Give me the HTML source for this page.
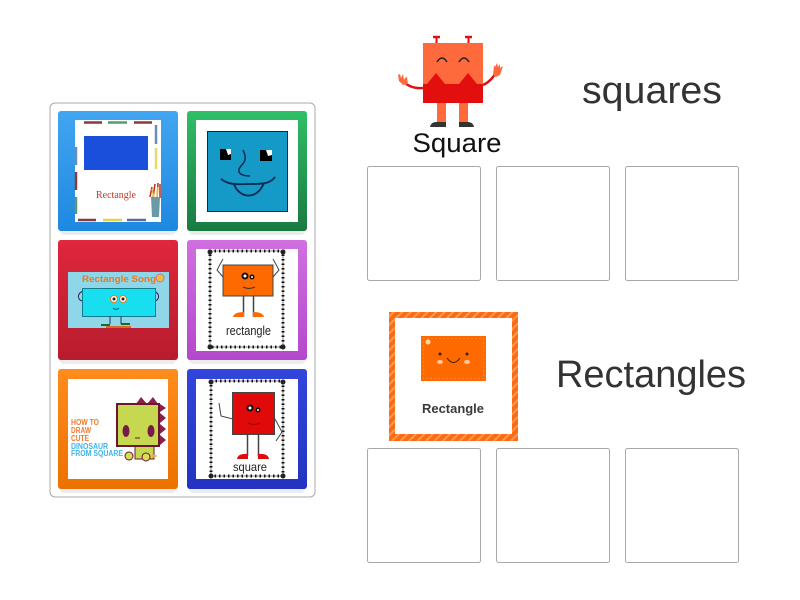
<!DOCTYPE html>
<html><head><meta charset="utf-8"><style>
html,body{margin:0;padding:0;background:#fff;width:800px;height:600px;overflow:hidden}
svg{display:block}
text{font-family:"Liberation Sans",sans-serif}
</style></head><body>
<svg width="800" height="600" viewBox="0 0 800 600" xmlns="http://www.w3.org/2000/svg">
<defs>
<linearGradient id="gb" x1="0" y1="0" x2="0" y2="1"><stop offset="0" stop-color="#42a5f0"/><stop offset="1" stop-color="#1e88e0"/></linearGradient>
<linearGradient id="gg" x1="0" y1="0" x2="0" y2="1"><stop offset="0" stop-color="#2fbf68"/><stop offset="1" stop-color="#1a7a40"/></linearGradient>
<linearGradient id="gr" x1="0" y1="0" x2="0" y2="1"><stop offset="0" stop-color="#e0263c"/><stop offset="1" stop-color="#b81c2e"/></linearGradient>
<linearGradient id="gp" x1="0" y1="0" x2="0" y2="1"><stop offset="0" stop-color="#d070e0"/><stop offset="1" stop-color="#b448cc"/></linearGradient>
<linearGradient id="go" x1="0" y1="0" x2="0" y2="1"><stop offset="0" stop-color="#ff8c1e"/><stop offset="1" stop-color="#ec7100"/></linearGradient>
<linearGradient id="gi" x1="0" y1="0" x2="0" y2="1"><stop offset="0" stop-color="#3346dc"/><stop offset="1" stop-color="#2233c0"/></linearGradient>
<pattern id="st" width="6" height="6" patternUnits="userSpaceOnUse" patternTransform="rotate(45)"><rect width="6" height="6" fill="#ff6a10"/><rect width="2" height="6" fill="#ff9a55"/></pattern>
</defs>

<rect x="50" y="103" width="265" height="394" rx="5" fill="#fff" stroke="#a8a8a8"/>

<!-- card shadows -->
<g fill="#000" opacity=".07">
<rect x="60" y="115" width="116" height="120" rx="4"/><rect x="189" y="115" width="116" height="120" rx="4"/>
<rect x="60" y="244" width="116" height="120" rx="4"/><rect x="189" y="244" width="116" height="120" rx="4"/>
<rect x="60" y="373" width="116" height="120" rx="4"/><rect x="189" y="373" width="116" height="120" rx="4"/>
</g>

<!-- Card 1 -->
<rect x="58" y="111" width="120" height="120" rx="3" fill="url(#gb)"/>
<rect x="75" y="120" width="86" height="102" fill="#fff"/>
<g stroke-width="2.500">
<path d="M84 122.500H102" stroke="#8a3a3a"/><path d="M108 122.500H127" stroke="#5a9a6a"/><path d="M134 122.500H152" stroke="#8a3a3a"/>
<path d="M156 125V144" stroke="#6a8ac0"/><path d="M156 148V169" stroke="#e8d870"/>
<path d="M76 147V165" stroke="#6a8ac0"/><path d="M76 172V190" stroke="#8a3a3a"/><path d="M76 197V214" stroke="#5a9a6a"/>
<path d="M78 220H96" stroke="#8a3a3a"/><path d="M103 220H122" stroke="#e8d040"/><path d="M127 220H146" stroke="#5a6a9a"/>
</g>
<rect x="84" y="136" width="64" height="34" fill="#1a4fdc"/>
<text x="116" y="198" font-size="10" fill="#c0392b" text-anchor="middle" style="font-family:'Liberation Serif',serif">Rectangle</text>
<path d="M150 197L152 187M153 198L155 184M157 198L158 183M160 198L160 184" stroke="#b03020" stroke-width="1.500"/>
<path d="M152 189L154 198M158 187L157 198" stroke="#e8c030" stroke-width="1.500"/>
<path d="M151 197H160L159 217H152Z" fill="#6a9aa8"/>

<!-- Card 2 -->
<rect x="187" y="111" width="120" height="120" rx="3" fill="url(#gg)"/>
<rect x="196" y="120" width="102" height="102" fill="#fff"/>
<rect x="207.500" y="131.500" width="80" height="80" fill="#1599c6" stroke="#0a2a50"/>
<rect x="220" y="149" width="11" height="11" fill="#000"/><path d="M226 149h5v5l-3 1z" fill="#fff"/>
<rect x="260" y="150" width="12" height="11" fill="#000"/><path d="M266 150h6v5l-4 1z" fill="#fff"/>
<path d="M243 150C247 158 245 162 241 166C236 172 240 176 250 176" fill="none" stroke="#0a2a50" stroke-width="1.500"/>
<path d="M221 179C230 186 240 184 250 184C262 184 270 184 275 177" fill="none" stroke="#0a2a50" stroke-width="1.800"/>
<path d="M234 184C238 197 256 202 264 183" fill="none" stroke="#0a2a50" stroke-width="1.800"/>

<!-- Card 3 -->
<rect x="58" y="240" width="120" height="120" rx="3" fill="url(#gr)"/>
<rect x="68" y="272" width="101" height="56" fill="#8fd6e8"/>
<text x="119" y="282" font-size="9" font-weight="bold" fill="#e87a1a" text-anchor="middle" textLength="74" lengthAdjust="spacingAndGlyphs">Rectangle Song</text>
<circle cx="160" cy="278" r="4" fill="#e8c040" stroke="#d070a0"/>
<path d="M83 291C76 294 78 301 83 301M154 291C161 294 159 301 154 301" fill="none" stroke="#225" />
<rect x="82.500" y="288.500" width="73" height="28" fill="#18dff0" stroke="#0f7c8a"/>
<circle cx="114" cy="299" r="3.500" fill="#fff" stroke="#e87a1a"/><circle cx="123" cy="299" r="3.500" fill="#fff" stroke="#e87a1a"/>
<circle cx="114" cy="299" r="1.500" fill="#222"/><circle cx="123" cy="299" r="1.500" fill="#222"/>
<path d="M113 308q3 3 6 0" fill="none" stroke="#157" />
<path d="M110 316V324M121 316V324" stroke="#236" />
<path d="M101 325h9M121 324h9" stroke="#1a6a30" stroke-width="2"/>
<path d="M106 327h25" stroke="#d07020" stroke-width="2"/>

<!-- Card 4 -->
<rect x="187" y="240" width="120" height="120" rx="3" fill="url(#gp)"/>
<rect x="196" y="249" width="102" height="102" fill="#fff"/>
<rect x="210" y="251" width="73" height="96" fill="none" stroke="#555" stroke-width=".7"/>
<rect x="210" y="251" width="73" height="96" fill="none" stroke="#111" stroke-width="3" stroke-dasharray="1.500 3"/>
<circle cx="210" cy="252" r="2.500" fill="#222"/><circle cx="283" cy="252" r="2.500" fill="#222"/><circle cx="210" cy="347" r="2.500" fill="#222"/><circle cx="283" cy="347" r="2.500" fill="#222"/>
<rect x="223" y="265" width="50" height="31" fill="#ff6a00" stroke="#444"/>
<path d="M223 277L217 270L223 259M273 277L279 270L273 259" fill="none" stroke="#444"/>
<circle cx="245" cy="276" r="3.500" fill="#111"/><circle cx="252" cy="277" r="2.500" fill="#111"/><circle cx="245" cy="276" r="1.500" fill="#fff"/><circle cx="252" cy="277" r="1" fill="#fff"/>
<path d="M243 287q6 3 12 0" fill="none" stroke="#333"/>
<path d="M243.500 296V317M253.500 296V317" stroke="#444" stroke-width="1.500"/>
<path d="M233 317q1-5 11-5V317ZM253 312q10 0 11 5h-11Z" fill="#ff6a00"/>
<text x="248.500" y="335" font-size="13" fill="#222" text-anchor="middle" textLength="45" lengthAdjust="spacingAndGlyphs">rectangle</text>

<!-- Card 5 -->
<rect x="58" y="369" width="120" height="120" rx="3" fill="url(#go)"/>
<rect x="68" y="379" width="100" height="100" fill="#fff"/>
<path d="M136 404L141 397L147 404ZM147 404L153 397L158 404ZM160 404L166 408L160 412ZM160 413L166 418L160 423ZM160 424L166 429L160 434ZM160 435L166 440L160 445Z" fill="#8a1f4a"/>
<path d="M135 446H154V459H135Z" fill="#c7d94e" stroke="#6a1a3a"/>
<rect x="117" y="404" width="42" height="42" fill="#c5d850" stroke="#6b1733" stroke-width="2"/>
<ellipse cx="126" cy="431" rx="3.500" ry="6" fill="#7a1a48"/><ellipse cx="151" cy="431" rx="3.500" ry="6" fill="#7a1a48"/>
<path d="M135 438h5" stroke="#6b1733"/>
<circle cx="129" cy="456" r="4" fill="#d8dc58" stroke="#6b1733"/><circle cx="146" cy="457" r="4" fill="#d8dc58" stroke="#6b1733"/>
<path d="M152 454L158 456L152 458Z" fill="#e8b040"/>
<g font-size="8" font-weight="bold">
<text x="71" y="425" fill="#ef7a30" textLength="28" lengthAdjust="spacingAndGlyphs">HOW TO</text>
<text x="71" y="433" fill="#ef7a30" textLength="20" lengthAdjust="spacingAndGlyphs">DRAW</text>
<text x="71" y="441" fill="#ef7a30" textLength="18" lengthAdjust="spacingAndGlyphs">CUTE</text>
<text x="71" y="449" fill="#3fb4e8" textLength="37" lengthAdjust="spacingAndGlyphs">DINOSAUR</text>
<text x="71" y="456" fill="#3fb4e8" textLength="52" lengthAdjust="spacingAndGlyphs">FROM SQUARE</text>
</g>

<!-- Card 6 -->
<rect x="187" y="369" width="120" height="120" rx="3" fill="url(#gi)"/>
<rect x="196" y="379" width="102" height="100" fill="#fff"/>
<rect x="211" y="381" width="72" height="95" fill="none" stroke="#555" stroke-width=".7"/>
<rect x="211" y="381" width="72" height="95" fill="none" stroke="#111" stroke-width="3" stroke-dasharray="1.500 3"/>
<circle cx="211" cy="382" r="2.500" fill="#222"/><circle cx="283" cy="382" r="2.500" fill="#222"/><circle cx="211" cy="476" r="2.500" fill="#222"/><circle cx="283" cy="476" r="2.500" fill="#222"/>
<rect x="232.500" y="392.500" width="42" height="42" fill="#e00a0a" stroke="#444"/>
<path d="M233 419L221 416L219 403M275 419L282 432L276 441" fill="none" stroke="#444"/>
<circle cx="250" cy="408" r="3.500" fill="#111"/><circle cx="258" cy="410" r="2.500" fill="#111"/><circle cx="250" cy="408" r="1.500" fill="#fff"/><circle cx="258" cy="410" r="1" fill="#fff"/>
<path d="M248 423q6 3 12 0" fill="none" stroke="#900"/>
<path d="M247.500 434V456M258.500 434V456" stroke="#444" stroke-width="1.500"/>
<path d="M237 459q1-6 11-5V459ZM258 454q10-1 11 5h-11Z" fill="#e00a0a"/>
<text x="250" y="471" font-size="12" fill="#222" text-anchor="middle" textLength="34" lengthAdjust="spacingAndGlyphs">square</text>

<!-- Square character -->
<path d="M433 37h7M465 37h7" stroke="#e01010" stroke-width="2.500"/>
<path d="M436.500 37v6M468.500 37v6" stroke="#e01010" stroke-width="2"/>
<path d="M423 88C412 89 405 84 401 79" fill="none" stroke="#e01010" stroke-width="2.500"/>
<path d="M483 85C490 82 494 76 497 71" fill="none" stroke="#e01010" stroke-width="2.500"/>
<path d="M398 75l1 6 4 4 5-1-1-7-2 1-1 2-1-6-2 4-1-4z" fill="#ff6a3d"/>
<path d="M493 75l3 2 4-2 3-9-3 2 0-4-2 3-1-4-2 4-1-2z" fill="#ff6a3d"/>
<rect x="423" y="43" width="60" height="60" fill="#ff6a3d"/>
<path d="M423 103V84H427L436 73L445 84H459L468 73L477 84H483V103Z" fill="#e30f0f"/>
<path d="M437 62q5-8 10 0M459 62q5-8 10 0" fill="none" stroke="#222" stroke-width="1.500"/>
<rect x="437" y="103" width="9" height="19" fill="#ff6a3d"/><rect x="459" y="103" width="9" height="19" fill="#ff6a3d"/>
<path d="M430 127q1-5 6-5h10v5ZM459 122h9q5 0 6 5h-15Z" fill="#333"/>
<text x="457" y="152" font-size="27" fill="#111" text-anchor="middle" textLength="89" lengthAdjust="spacingAndGlyphs">Square</text>

<text x="582" y="103" font-size="38" fill="#333" textLength="140" lengthAdjust="spacingAndGlyphs">squares</text>

<!-- Drop zones -->
<g fill="#fff" stroke="#a8a8a8">
<rect x="367.500" y="166.500" width="113" height="114" rx="2"/>
<rect x="496.500" y="166.500" width="113" height="114" rx="2"/>
<rect x="625.500" y="166.500" width="113" height="114" rx="2"/>
<rect x="367.500" y="448.500" width="113" height="114" rx="2"/>
<rect x="496.500" y="448.500" width="113" height="114" rx="2"/>
<rect x="625.500" y="448.500" width="113" height="114" rx="2"/>
</g>

<!-- Rectangle picture -->
<rect x="389" y="312" width="129" height="129" fill="url(#st)"/>
<rect x="395" y="318" width="117" height="116" fill="#fff"/>
<rect x="421" y="336" width="65" height="45" fill="#ff6a00"/>
<rect x="423.500" y="338.500" width="60" height="40" fill="none" stroke="#ffb27a" stroke-width=".8" stroke-dasharray="1 3"/>
<circle cx="428" cy="342" r="2.500" fill="#ffd9b0"/>
<circle cx="440" cy="354" r="1.500" fill="#3a2010"/><circle cx="467" cy="354" r="1.500" fill="#3a2010"/>
<ellipse cx="440" cy="362" rx="3" ry="2" fill="#ffc89a"/><ellipse cx="467" cy="362" rx="3" ry="2" fill="#ffc89a"/>
<path d="M447 358q6.500 9 13 0" fill="none" stroke="#222"/>
<text x="453" y="413" font-size="13" font-weight="bold" fill="#3a3a3e" text-anchor="middle" textLength="62" lengthAdjust="spacingAndGlyphs">Rectangle</text>

<text x="556" y="387" font-size="38" fill="#333" textLength="190" lengthAdjust="spacingAndGlyphs">Rectangles</text>
</svg>
</body></html>
